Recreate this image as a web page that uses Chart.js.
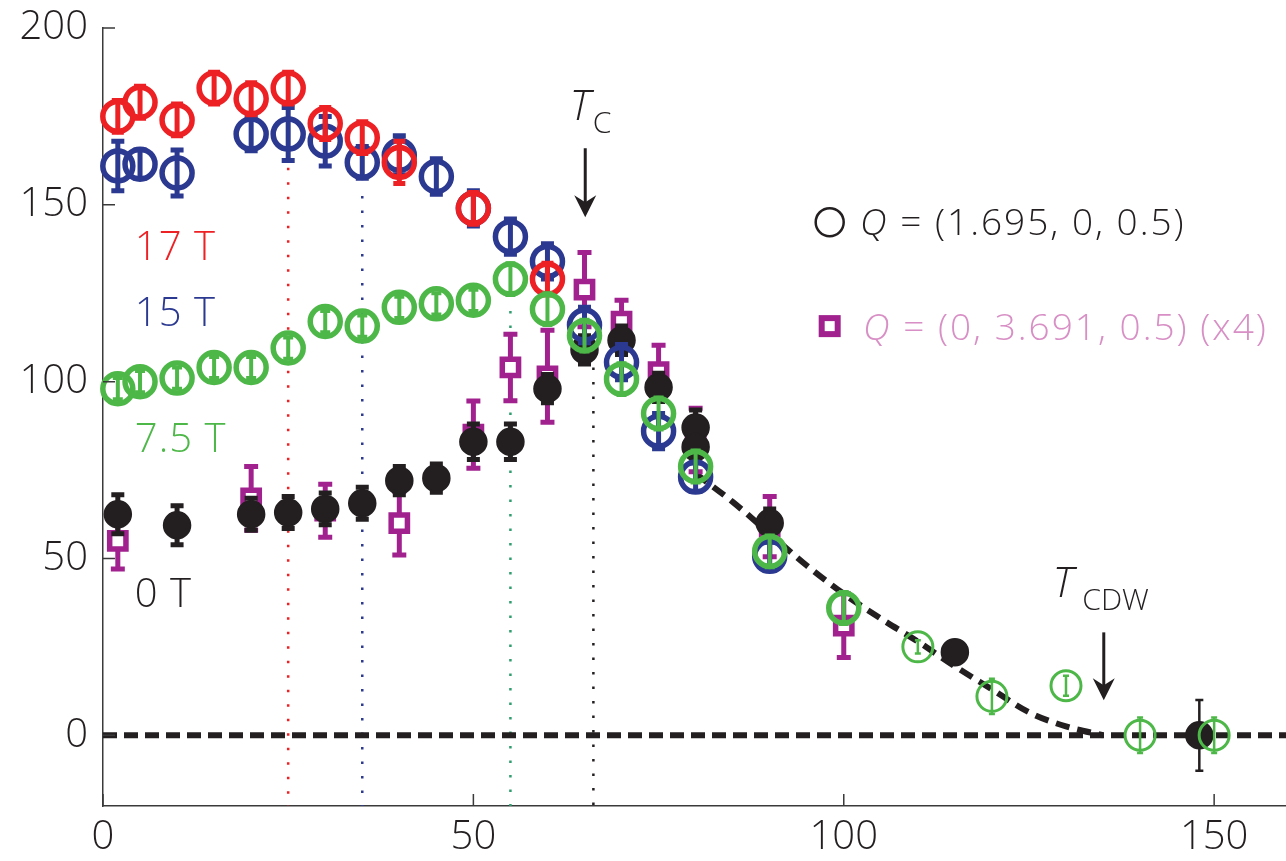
<!DOCTYPE html>
<html>
<head>
<meta charset="utf-8">
<script src="https://cdn.jsdelivr.net/npm/chart.js@4.4.0/dist/chart.umd.min.js"></script>
<style>
  html, body { margin: 0; padding: 0; background: #fff; }
  canvas { display: block; }
</style>
</head>
<body>
<canvas id="chart" width="1286" height="861"></canvas>
<script>
// values: temperature (K) vs intensity
const xTicks = [0, 50, 100, 150];
const yTicks = [0, 50, 100, 150, 200];

// 17 T
const t17 = [2, 5, 10, 15, 20, 25, 30, 35, 40, 50, 60];
const i17 = [175, 179, 174, 183, 180, 183, 173, 169, 162, 149, 129];
const e17 = [4.5, 4.5, 4.5, 4.5, 4.5, 4.5, 4.5, 4.5, 6, 4.5, 4.5];

// 15 T
const t15 = [2, 5, 10, 20, 25, 30, 35, 40, 45, 50, 55, 60, 65, 70, 75, 80, 90];
const i15 = [161, 161.5, 159, 170, 170, 168, 162, 164, 158, 149, 141, 134, 116, 105.5, 86, 73, 50.6];
const e15 = [7, 4, 6.5, 4.7, 7.5, 7, 4.5, 5.5, 5, 5, 5, 5, 5, 5, 5, 4, 4];

// 7.5 T
const t75 = [2, 5, 10, 15, 20, 25, 30, 35, 40, 45, 50, 55, 60, 65, 70, 75, 80, 90, 100, 110, 120, 130, 140, 150];
const i75 = [98, 100, 101, 104, 104, 109.5, 117, 115.7, 121, 122, 123, 129, 120.5, 113, 100.7, 91, 76, 52, 36, 25, 11, 14, 0, 0];
const e75 = [3, 3, 3, 3, 3, 3, 3, 3, 3, 3, 3, 4.5, 4.5, 4.5, 4.5, 4.5, 4.5, 4.5, 4.5, 1.9, 5, 2.8, 5, 5];

// 0 T
const t0 = [2, 10, 20, 25, 30, 35, 40, 45, 50, 55, 60, 65, 70, 75, 80, 80, 90, 115, 148];
const i0 = [62.5, 59.4, 62.5, 63, 64, 65.6, 72, 72.7, 83, 83, 98, 109, 111.7, 98.4, 87, 81.5, 60, 23.5, 0];
const e0 = [5.5, 5.5, 4.5, 4.5, 4.5, 4.5, 4, 4, 5, 5, 4, 4, 4, 4, 5, 3, 4, 2, 10];

// Q = (0, 3.691, 0.5), scaled x4
const tQ = [2, 20, 30, 40, 50, 55, 60, 65, 70, 75, 80, 90, 100];
const iQ = [55, 67, 63.5, 60, 85, 104, 101.5, 126, 117, 102.7, 83.5, 59, 31];
const eQ = [8, 9, 7.5, 9, 9.5, 9.4, 13, 10.5, 6, 7.6, 9, 8.5, 9];

// dashed guide to the eye, and the zero line
const fitT = [80, 85, 90, 95, 100, 105, 110, 115, 120, 125, 130, 135];
const fitI = [74, 66, 57, 48, 40, 33, 26.5, 19.5, 13, 6.5, 2.5, 0];
const zeroT = [0, 160];
const zeroI = [0, 0];

// dotted temperature markers
const markT = [25, 35, 55, 66.2];
const markTop = [160.5, 152.5, 120, 104];

const RED = '#ed2024', BLUE = '#2b3990', GREEN = '#4db848', BLACK = '#231f20',
      MAG = '#a1228f', PINK = '#d88fc5';
const FONT = '"Open Sans"';

const pts = (xs, ys) => xs.map((x, i) => ({x: x, y: ys[i]}));

const markColors = [RED, BLUE, '#2e9e6e', BLACK];
const markSets = markT.map((t, i) => ({
    data: [{x: t, y: markTop[i]}, {x: t, y: -20}],
    showLine: true, pointRadius: 0,
    borderColor: markColors[i], borderWidth: 2.5, borderDash: [2.5, 12],
    order: 9, clip: false
}));

const errorBars = {
    id: 'errorBars',
    beforeDatasetDraw(chart, args) {
        const ds = chart.data.datasets[args.index];
        if (!ds.errors) return;
        const ctx = chart.ctx, x = chart.scales.x, y = chart.scales.y;
        ctx.save();
        ctx.strokeStyle = ds.errColor || ds.borderColor;
        ds.data.forEach((p, i) => {
            const w = typeof ds.errWidth === 'function' ? ds.errWidth(p) : ds.errWidth;
            const cap = (typeof ds.capWidth === 'function' ? ds.capWidth(p) : ds.capWidth) / 2;
            const px = x.getPixelForValue(p.x);
            const top = y.getPixelForValue(p.y + ds.errors[i]);
            const bot = y.getPixelForValue(p.y - ds.errors[i]);
            ctx.lineWidth = w;
            ctx.beginPath();
            ctx.moveTo(px, top); ctx.lineTo(px, bot);
            ctx.moveTo(px - cap, top); ctx.lineTo(px + cap, top);
            ctx.moveTo(px - cap, bot); ctx.lineTo(px + cap, bot);
            ctx.stroke();
        });
        ctx.restore();
    }
};

function rich(ctx, x, y, parts) {
    parts.forEach(p => {
        ctx.font = p.font;
        ctx.fillStyle = p.color;
        ctx.fillText(p.t, x, y);
        x += ctx.measureText(p.t).width;
    });
}

function arrow(ctx, px, y0, y1) {
    ctx.save();
    ctx.strokeStyle = BLACK; ctx.fillStyle = BLACK; ctx.lineWidth = 3;
    ctx.beginPath(); ctx.moveTo(px, y0); ctx.lineTo(px, y1 - 12); ctx.stroke();
    ctx.beginPath();
    ctx.moveTo(px, y1);
    ctx.lineTo(px - 11, y1 - 22);
    ctx.lineTo(px, y1 - 15);
    ctx.lineTo(px + 11, y1 - 22);
    ctx.closePath(); ctx.fill();
    ctx.restore();
}

const decorations = {
    id: 'decorations',
    afterDraw(chart) {
        const ctx = chart.ctx, x = chart.scales.x, y = chart.scales.y, a = chart.chartArea;
        const X = v => x.getPixelForValue(v), Y = v => y.getPixelForValue(v);
        ctx.save();
        // inward ticks
        ctx.strokeStyle = '#3a3a3a'; ctx.lineWidth = 1.5;
        ctx.beginPath();
        yTicks.forEach(v => { ctx.moveTo(a.left, Y(v)); ctx.lineTo(a.left + 12, Y(v)); });
        xTicks.forEach(v => { ctx.moveTo(X(v), a.bottom); ctx.lineTo(X(v), a.bottom - 12); });
        ctx.stroke();

        ctx.textBaseline = 'alphabetic';
        ctx.textAlign = 'left';
        ctx.letterSpacing = '1px';
        const big = '300 40px ' + FONT;
        [['17 T', RED, 134.4], ['15 T', BLUE, 115.7], ['7.5 T', GREEN, 80], ['0 T', BLACK, 36.2]]
            .forEach(l => { ctx.font = big; ctx.fillStyle = l[1]; ctx.fillText(l[0], X(4.3), Y(l[2])); });

        // T_C and T_CDW
        ctx.letterSpacing = '0px';
        ctx.fillStyle = BLACK;
        ctx.font = 'italic 300 42px ' + FONT; ctx.fillText('T', X(63.0), Y(174));
        ctx.font = '300 30px ' + FONT; ctx.fillText('C', X(66.1), Y(170.3));
        arrow(ctx, X(65.1), Y(166), Y(146.5));
        ctx.font = 'italic 300 42px ' + FONT; ctx.fillText('T', X(128.2), Y(39));
        ctx.font = '300 30px ' + FONT; ctx.fillText('CDW', X(132.2), Y(35.4));
        arrow(ctx, X(135.1), Y(29.1), Y(9.9));

        // legend
        ctx.strokeStyle = BLACK; ctx.lineWidth = 2.5;
        ctx.beginPath(); ctx.arc(X(98.1), Y(145.1), 14, 0, Math.PI * 2); ctx.stroke();
        ctx.letterSpacing = '2px';
        rich(ctx, X(102.2), Y(141.4), [
            {t: 'Q', font: 'italic 300 37px ' + FONT, color: BLACK},
            {t: ' = (1.695, 0, 0.5)', font: '300 37px ' + FONT, color: BLACK}
        ]);
        ctx.fillStyle = MAG;
        ctx.fillRect(X(98.1) - 11, Y(115.7) - 11, 22, 22);
        ctx.fillStyle = '#fff';
        ctx.fillRect(X(98.1) - 5, Y(115.7) - 5, 10, 10);
        rich(ctx, X(102.6), Y(111.7), [
            {t: 'Q', font: 'italic 300 37px ' + FONT, color: PINK},
            {t: ' = (0, 3.691, 0.5) (x4)', font: '300 37px ' + FONT, color: PINK}
        ]);
        ctx.restore();
    }
};

const tickFont = {family: FONT, size: 40, weight: '300', lineHeight: 1};

new Chart(document.getElementById('chart'), {
    type: 'scatter',
    data: {
        datasets: [
            {
                data: pts(t75, i75), errors: e75,
                borderColor: GREEN, backgroundColor: 'rgba(0,0,0,0)',
                pointRadius: 15, pointBorderWidth: c => c.raw && c.raw.x > 105 ? 3 : 5.5,
                errWidth: p => p.x > 105 ? 2.5 : 4, capWidth: p => p.x > 105 ? 6 : 10,
                order: 0, clip: false
            },
            {
                data: pts(t17, i17), errors: e17,
                borderColor: RED, backgroundColor: 'rgba(0,0,0,0)',
                pointRadius: 15, pointBorderWidth: 5.5, errWidth: 5, capWidth: 12,
                order: 1, clip: false
            },
            {
                data: pts(t15, i15), errors: e15,
                borderColor: BLUE, backgroundColor: 'rgba(0,0,0,0)',
                pointRadius: 15, pointBorderWidth: 5.5, errWidth: 5, capWidth: 13,
                order: 2, clip: false
            },
            {
                data: pts(t0, i0), errors: e0,
                borderColor: BLACK, backgroundColor: BLACK,
                pointRadius: 13.5, pointBorderWidth: 1.5,
                errWidth: p => p.x > 140 ? 2.5 : 5, capWidth: p => p.x > 140 ? 8 : 13,
                order: 3, clip: false
            },
            {
                data: pts(tQ, iQ), errors: eQ,
                borderColor: MAG, backgroundColor: '#fff',
                pointStyle: 'rect', pointRadius: 11.5, pointBorderWidth: 5.5,
                errWidth: 5, capWidth: 14,
                order: 4, clip: false
            },
            {
                data: pts(fitT, fitI), showLine: true, pointRadius: 0,
                borderColor: BLACK, borderWidth: 6, borderDash: [14, 8],
                cubicInterpolationMode: 'monotone', order: 8, clip: false
            },
            {
                data: pts(zeroT, zeroI), showLine: true, pointRadius: 0,
                borderColor: BLACK, borderWidth: 6, borderDash: [14, 7],
                order: 8, clip: false
            },
            ...markSets
        ]
    },
    options: {
        responsive: false,
        animation: false,
        events: [],
        layout: {autoPadding: false, padding: {top: 28, left: 0, right: 0, bottom: 0}},
        plugins: {legend: {display: false}, tooltip: {enabled: false}},
        scales: {
            x: {
                type: 'linear', min: 0, max: 159.7,
                afterBuildTicks: s => { s.ticks = xTicks.map(v => ({value: v})); },
                afterFit: s => { s.height = 55; s.paddingLeft = 0; s.paddingRight = 0; },
                grid: {display: false, drawTicks: false, tickLength: 0},
                border: {display: true, color: '#3a3a3a', width: 1.5},
                ticks: {padding: 12, color: BLACK, font: tickFont, maxRotation: 0}
            },
            y: {
                type: 'linear', min: -20, max: 200,
                afterBuildTicks: s => { s.ticks = yTicks.map(v => ({value: v})); },
                afterFit: s => { s.width = 103; s.paddingTop = 0; s.paddingBottom = 0; },
                grid: {display: false, drawTicks: false, tickLength: 0},
                border: {display: true, color: '#3a3a3a', width: 1.5},
                ticks: {padding: 15, color: BLACK, font: tickFont}
            }
        }
    },
    plugins: [errorBars, decorations]
});
</script>
</body>
</html>
